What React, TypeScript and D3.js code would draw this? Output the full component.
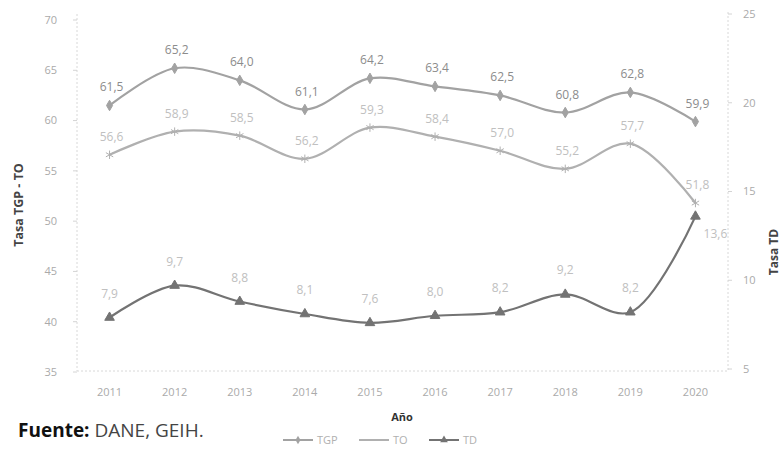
import React from "react";
import * as d3 from "d3";

const years = ["2011", "2012", "2013", "2014", "2015", "2016", "2017", "2018", "2019", "2020"];
const tgp = [61.5, 65.2, 64.0, 61.1, 64.2, 63.4, 62.5, 60.8, 62.8, 59.9];
const to = [56.6, 58.9, 58.5, 56.2, 59.3, 58.4, 57.0, 55.2, 57.7, 51.8];
const td = [7.9, 9.7, 8.8, 8.1, 7.6, 8.0, 8.2, 9.2, 8.2, 13.6];
const leftTicks = [35, 40, 45, 50, 55, 60, 65, 70];
const rightTicks = [5, 10, 15, 20, 25];

const W = 783, H = 449;
const PL = 77, PR = 728, PB = 371;

const fmt = (v: number) => v.toFixed(1).replace(".", ",");

export default function App() {
  const x = d3.scaleBand().domain(years).range([PL, PR]);
  const cx = (y: string) => (x(y) as number) + x.bandwidth() / 2;
  const yl = d3.scaleLinear().domain([35, 70]).range([372, 20]);
  const yr = d3.scaleLinear().domain([5, 25]).range([369, 14]);
  const curve = d3.curveCatmullRom.alpha(0.5);
  const lineL = d3.line<number>().x((_, i) => cx(years[i])).y((v) => yl(v)).curve(curve);
  const lineR = d3.line<number>().x((_, i) => cx(years[i])).y((v) => yr(v)).curve(curve);
  const diamond = d3.symbol().type(d3.symbolDiamond).size(32)() as string;
  const star = d3.symbol().type(d3.symbolAsterisk).size(50)() as string;
  const tri = d3.symbol().type(d3.symbolTriangle).size(40)() as string;

  const font = "'Open Sans', 'Liberation Sans', sans-serif";
  const cTGP = "#a2a2a2", cTO = "#b0b0b0", cTD = "#737373";

  const series = [
    { name: "TGP", vals: tgp, path: lineL(tgp), y: yl, color: cTGP, sym: diamond, lab: "#8c8c8c", dy: -14, dx: 2 },
    { name: "TO", vals: to, path: lineL(to), y: yl, color: cTO, sym: star, lab: "#c0c0c0", dy: -14, dx: 2 },
    { name: "TD", vals: td, path: lineR(td), y: yr, color: cTD, sym: tri, lab: "#c0c0c0", dy: -20, dx: 0 },
  ];

  return (
    <svg width={W} height={H} style={{ position: "absolute", left: 0, top: 0, background: "#fff" }} fontFamily={font}>
      <rect width={W} height={H} fill="#fff" />
      <line x1={PL} x2={PL} y1={14} y2={PB} stroke="#d8d8d8" strokeDasharray="2,2" />
      <line x1={PR} x2={PR} y1={12} y2={PB} stroke="#d8d8d8" strokeDasharray="2,2" />
      <line x1={PL} x2={PR} y1={PB} y2={PB} stroke="#d8d8d8" strokeDasharray="2,2" />
      {leftTicks.map((t) => (
        <g key={"l" + t}>
          <line x1={PL - 4} x2={PL} y1={yl(t)} y2={yl(t)} stroke="#d4d4d4" />
          <text x={57} y={yl(t)} dy="0.35em" textAnchor="end" fontSize={11} fill="#aaaaaa">{t}</text>
        </g>
      ))}
      {rightTicks.map((t) => (
        <g key={"r" + t}>
          <line x1={PR} x2={PR + 4} y1={yr(t)} y2={yr(t)} stroke="#d4d4d4" />
          <text x={743} y={yr(t)} dy="0.35em" textAnchor="start" fontSize={11} fill="#aaaaaa">{t}</text>
        </g>
      ))}
      {years.map((y) => (
        <text key={y} x={cx(y)} y={396} textAnchor="middle" fontSize={11} fill="#aaaaaa">{y}</text>
      ))}
      <text x={402} y={421} textAnchor="middle" fontSize={11} fontWeight="bold" fill="#333">Año</text>
      <text transform="translate(23,205) rotate(-90)" textAnchor="middle" fontSize={12.5} fontWeight="bold" fill="#444">Tasa TGP - TO</text>
      <text transform="translate(778,252) rotate(-90)" textAnchor="middle" fontSize={12} fontWeight="bold" fill="#444">Tasa TD</text>
      {series.map((s) => (
        <g key={s.name}>
          <path d={s.path as string} fill="none" stroke={s.color} strokeWidth={2.2} />
          {s.vals.map((v, i) => (
            <path key={i} d={s.sym} transform={`translate(${cx(years[i])},${s.y(v)})`} fill={s.color} stroke={s.color} strokeWidth={1} />
          ))}
          {s.vals.map((v, i) => {
            const last = s.name === "TD" && i === 9;
            return (
              <text key={"t" + i} x={cx(years[i]) + (last ? 20 : s.dx)} y={s.y(v) + (last ? 22 : s.dy)} textAnchor="middle" fontSize={12} fill={s.lab}>
                {fmt(v)}
              </text>
            );
          })}
        </g>
      ))}
      <text x={18} y={437} fontSize={19} fill="#111">
        <tspan fontWeight="bold">Fuente:</tspan>
        <tspan fill="#444"> DANE, GEIH.</tspan>
      </text>
      {series.map((s, i) => {
        const lx = [283, 359, 429][i];
        return (
          <g key={"lg" + s.name}>
            <line x1={lx} x2={lx + 30} y1={440} y2={440} stroke={s.color} strokeWidth={2} />
            <path d={s.sym} transform={`translate(${lx + 15},440) scale(0.8)`} fill={s.color} />
            <text x={lx + 34} y={440} dy="0.35em" fontSize={11} fill="#b0b0b0">{s.name}</text>
          </g>
        );
      })}
    </svg>
  );
}
